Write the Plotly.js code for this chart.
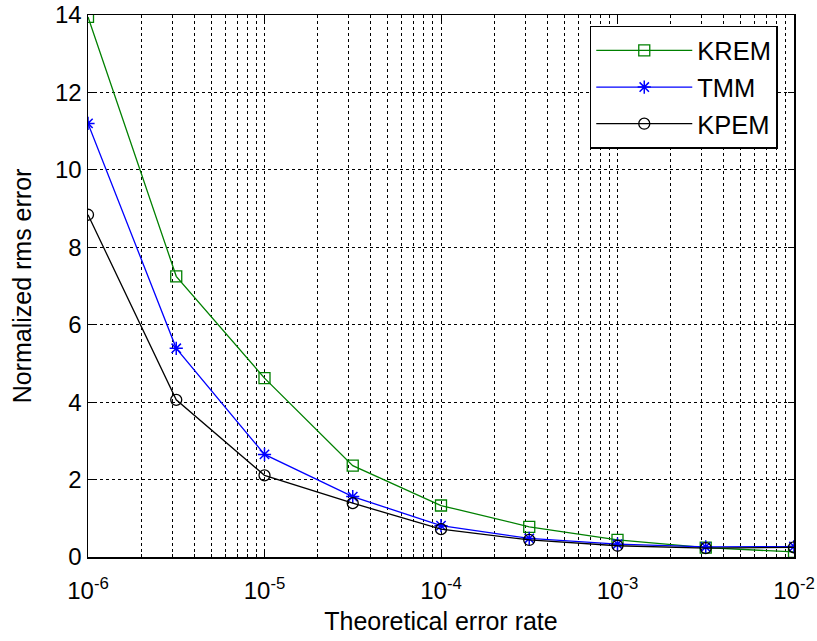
<!DOCTYPE html>
<html>
<head>
<meta charset="utf-8">
<script src="https://cdn.plot.ly/plotly-3.0.1.min.js"></script>
<style>html,body{margin:0;padding:0;background:#fff;}#chart{width:817px;height:641px;}</style>
</head>
<body>
<div id="chart"></div>
<script>
const errorRate = [1e-6, 3.162e-6, 1e-5, 3.162e-5, 1e-4, 3.162e-4, 1e-3, 3.162e-3, 1e-2];
const krem = [13.95, 7.25, 4.62, 2.36, 1.33, 0.78, 0.44, 0.24, 0.13];
const tmm  = [11.2, 5.39, 2.65, 1.56, 0.81, 0.48, 0.33, 0.26, 0.27];
const kpem = [8.84, 4.06, 2.11, 1.39, 0.72, 0.44, 0.29, 0.23, 0.25];
const seriesNames = ['KREM', 'TMM', 'KPEM'];
const xTickVals = [1e-6, 1e-5, 1e-4, 1e-3, 1e-2];
const xTickText = ['10<sup>-6</sup>', '10<sup>-5</sup>', '10<sup>-4</sup>', '10<sup>-3</sup>', '10<sup>-2</sup>'];

const FONT = 'Liberation Sans';
const traces = [
  {x: errorRate, y: krem, name: seriesNames[0], legendgroup: 'a', mode: 'lines+markers',
   line: {color: '#008000', width: 1.3}, marker: {symbol: 'square-open', size: 11, color: '#008000', line: {width: 1.3}}},
  {x: errorRate, y: tmm, name: seriesNames[1], legendgroup: 'b', mode: 'lines+markers',
   line: {color: '#0000ff', width: 1.3}, marker: {symbol: 'asterisk-open', size: 11, color: '#0000ff', line: {width: 1.5, color: '#0000ff'}}},
  {x: errorRate, y: kpem, name: seriesNames[2], legendgroup: 'c', mode: 'lines+markers',
   line: {color: '#000000', width: 1.3}, marker: {symbol: 'circle-open', size: 11, color: '#000000', line: {width: 1.3}}}
];

const layout = {
  width: 817, height: 641,
  margin: {l: 88, r: 23, t: 15, b: 84},
  paper_bgcolor: '#fff', plot_bgcolor: '#fff',
  font: {family: FONT, size: 24, color: '#000'},
  showlegend: true,
  legend: {x: 0.977, y: 0.98, xanchor: 'right', yanchor: 'top', bgcolor: '#fff',
           bordercolor: '#000', borderwidth: 1.5, font: {family: FONT, size: 25.5, color: '#000'},
           traceorder: 'grouped', tracegroupgap: 0.5, itemwidth: 96},
  xaxis: {
    type: 'log', range: [-6, -2], tickmode: 'array', tickvals: xTickVals, ticktext: xTickText,
    showline: true, linecolor: '#000', linewidth: 1.5, mirror: 'allticks',
    ticks: 'inside', ticklen: 6, tickcolor: '#000', ticklabeloverflow: 'allow', ticklabelstandoff: 12,
    showgrid: true, gridcolor: '#000', griddash: 'dot', gridwidth: 1,
    minor: {dtick: 'D1', showgrid: true, gridcolor: '#000', griddash: 'dot', gridwidth: 1, ticks: 'inside', ticklen: 3, tickcolor: '#000'},
    zeroline: false,
    tickfont: {family: FONT, size: 24, color: '#000'},
    title: {text: 'Theoretical error rate', font: {family: FONT, size: 25, color: '#000'}, standoff: 9}
  },
  yaxis: {
    range: [0, 14], dtick: 2,
    showline: true, linecolor: '#000', linewidth: 1.5, mirror: 'allticks',
    ticks: 'inside', ticklen: 6, tickcolor: '#000',
    showgrid: true, gridcolor: '#000', griddash: 'dot', gridwidth: 1,
    zeroline: false,
    tickfont: {family: FONT, size: 24, color: '#000'},
    title: {text: 'Normalized rms error', font: {family: FONT, size: 25, color: '#000'}, standoff: 16}
  }
};

Plotly.newPlot('chart', traces, layout, {displayModeBar: false, staticPlot: true});
</script>
</body>
</html>
